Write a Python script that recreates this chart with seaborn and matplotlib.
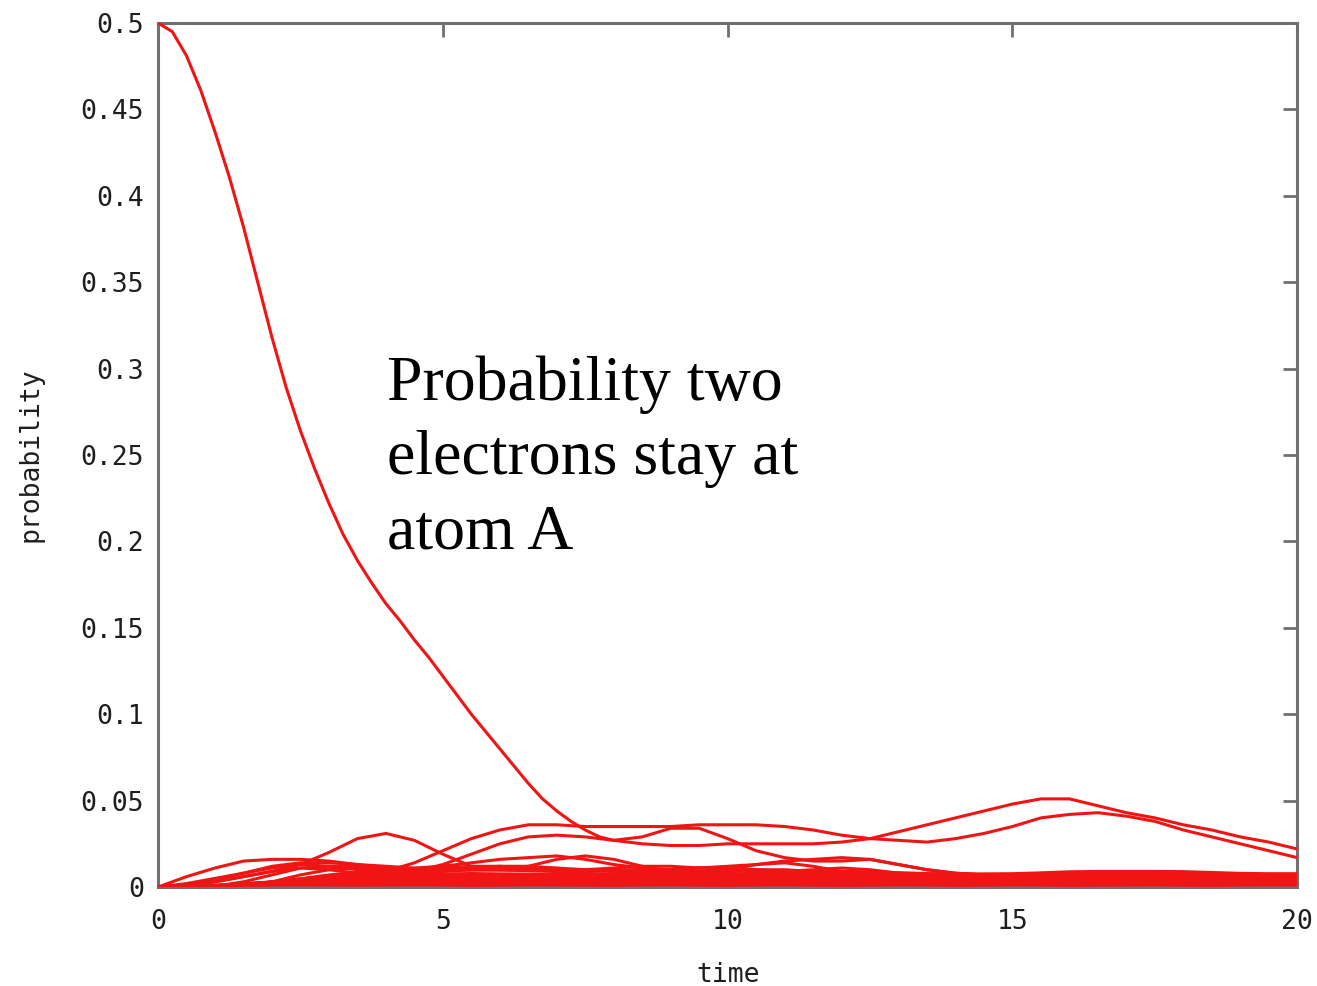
import numpy as np
import pandas as pd
import matplotlib
matplotlib.use('Agg')
import matplotlib.pyplot as plt
import seaborn as sns

# time grid shared by the small curves (every 0.5)
time_grid = [0.0, 0.5, 1.0, 1.5, 2.0, 2.5, 3.0, 3.5, 4.0, 4.5,
             5.0, 5.5, 6.0, 6.5, 7.0, 7.5, 8.0, 8.5, 9.0, 9.5,
             10.0, 10.5, 11.0, 11.5, 12.0, 12.5, 13.0, 13.5, 14.0, 14.5,
             15.0, 15.5, 16.0, 16.5, 17.0, 17.5, 18.0, 18.5, 19.0, 19.5,
             20.0]

# the big one: both electrons stay at atom A
main_time = [0.0, 0.25, 0.5, 0.75, 1.0, 1.25, 1.5, 1.75, 2.0, 2.25, 2.5, 2.75,
             3.0, 3.25, 3.5, 3.75, 4.0, 4.25, 4.5, 4.75, 5.0, 5.25, 5.5, 5.75,
             6.0, 6.25, 6.5, 6.75, 7.0, 7.25, 7.5, 7.75, 8.0,
             8.5, 9.0, 9.5, 10.0, 10.5, 11.0, 11.5, 12.0, 12.5, 13.0, 13.5,
             14.0, 14.5, 15.0, 15.5, 16.0, 16.5, 17.0, 17.5, 18.0, 18.5,
             19.0, 19.5, 20.0]
main_prob = [0.500, 0.495, 0.481, 0.461, 0.437, 0.411, 0.382, 0.350, 0.318, 0.289,
             0.264, 0.242, 0.222, 0.204, 0.189, 0.176, 0.164, 0.154, 0.143, 0.133,
             0.122, 0.111, 0.100, 0.090, 0.080, 0.070, 0.060, 0.051, 0.044, 0.038,
             0.033, 0.029, 0.027,
             0.029, 0.034, 0.034, 0.028, 0.021, 0.017, 0.015, 0.015, 0.016, 0.013,
             0.010, 0.008, 0.007, 0.006, 0.006, 0.005, 0.006, 0.006, 0.005, 0.005,
             0.006, 0.006, 0.005, 0.005]

upper_hump = [0.000, 0.002, 0.005, 0.008, 0.011, 0.013, 0.012, 0.010, 0.008, 0.009,
              0.013, 0.019, 0.025, 0.029, 0.030, 0.029, 0.027, 0.025, 0.024, 0.024,
              0.025, 0.025, 0.025, 0.025, 0.026, 0.028, 0.032, 0.036, 0.040, 0.044,
              0.048, 0.051, 0.051, 0.047, 0.043, 0.040, 0.036, 0.033, 0.029, 0.026,
              0.022]
lower_hump = [0.000, 0.001, 0.003, 0.006, 0.009, 0.011, 0.010, 0.008, 0.009, 0.014,
              0.021, 0.028, 0.033, 0.036, 0.036, 0.035, 0.035, 0.035, 0.035, 0.036,
              0.036, 0.036, 0.035, 0.033, 0.030, 0.028, 0.027, 0.026, 0.028, 0.031,
              0.035, 0.040, 0.042, 0.043, 0.041, 0.038, 0.033, 0.029, 0.025, 0.021,
              0.017]
hump_t4 = [0.000, 0.001, 0.003, 0.006, 0.009, 0.013, 0.020, 0.028, 0.031, 0.027,
           0.019, 0.012, 0.010, 0.012, 0.016, 0.018, 0.016, 0.012, 0.009, 0.008,
           0.010, 0.013, 0.014, 0.012, 0.009, 0.007, 0.006, 0.006, 0.005, 0.005,
           0.006, 0.006, 0.005, 0.006, 0.006, 0.005, 0.005, 0.006, 0.006, 0.005,
           0.005]
early1 = [0.000, 0.006, 0.011, 0.015, 0.016, 0.016, 0.015, 0.013, 0.011, 0.010,
          0.010, 0.011, 0.012, 0.012, 0.011, 0.010, 0.009, 0.009, 0.010, 0.011,
          0.011, 0.010, 0.009, 0.008, 0.008, 0.007, 0.007, 0.006, 0.006, 0.006,
          0.007, 0.007, 0.008, 0.008, 0.008, 0.007, 0.007, 0.006, 0.006, 0.006,
          0.006]
early2 = [0.000, 0.0005, 0.004, 0.008, 0.012, 0.014, 0.014, 0.013, 0.012, 0.011,
          0.012, 0.014, 0.016, 0.017, 0.018, 0.016, 0.013, 0.011, 0.010, 0.011,
          0.012, 0.013, 0.015, 0.016, 0.017, 0.016, 0.013, 0.010, 0.008, 0.007,
          0.006, 0.006, 0.007, 0.007, 0.006, 0.006, 0.005, 0.005, 0.006, 0.006,
          0.006]
early3 = [0.000, 0.000, 0.0005, 0.003, 0.007, 0.011, 0.012, 0.012, 0.011, 0.010,
          0.011, 0.012, 0.012, 0.011, 0.010, 0.010, 0.011, 0.012, 0.012, 0.011,
          0.010, 0.009, 0.009, 0.010, 0.011, 0.010, 0.008, 0.007, 0.006, 0.006,
          0.005, 0.005, 0.006, 0.006, 0.005, 0.005, 0.005, 0.006, 0.006, 0.005,
          0.005]
early4 = [0.000, 0.000, 0.000, 0.0005, 0.003, 0.007, 0.010, 0.011, 0.010, 0.009,
          0.009, 0.010, 0.011, 0.010, 0.009, 0.009, 0.010, 0.010, 0.009, 0.009,
          0.009, 0.010, 0.010, 0.009, 0.008, 0.007, 0.006, 0.005, 0.005, 0.004,
          0.004, 0.004, 0.005, 0.005, 0.004, 0.004, 0.004, 0.005, 0.005, 0.004,
          0.004]

# the crowd of tiny probabilities near zero
base1 = [0, 0.0003, 0.0006, 0.0009, 0.0011, 0.0012, 0.0011, 0.0010, 0.0011, 0.0012,
         0.0011, 0.0009, 0.0010, 0.0012, 0.0011, 0.0010, 0.0009, 0.0011, 0.0012, 0.0010,
         0.0009, 0.0011, 0.0012, 0.0010, 0.0009, 0.0010, 0.0012, 0.0011, 0.0009, 0.0010,
         0.0012, 0.0011, 0.0009, 0.0010, 0.0011, 0.0012, 0.0010, 0.0009, 0.0011, 0.0012,
         0.0011]
base2 = [0, 0.0004, 0.0009, 0.0015, 0.0020, 0.0024, 0.0025, 0.0023, 0.0022, 0.0024,
         0.0026, 0.0024, 0.0022, 0.0023, 0.0025, 0.0024, 0.0022, 0.0023, 0.0025, 0.0024,
         0.0022, 0.0023, 0.0025, 0.0024, 0.0022, 0.0023, 0.0025, 0.0024, 0.0022, 0.0023,
         0.0025, 0.0024, 0.0022, 0.0023, 0.0025, 0.0024, 0.0022, 0.0023, 0.0025, 0.0024,
         0.0023]
base3 = [0, 0.0003, 0.0010, 0.0018, 0.0026, 0.0033, 0.0037, 0.0038, 0.0036, 0.0035,
         0.0037, 0.0038, 0.0036, 0.0034, 0.0036, 0.0038, 0.0037, 0.0035, 0.0036, 0.0038,
         0.0037, 0.0035, 0.0036, 0.0038, 0.0037, 0.0035, 0.0036, 0.0038, 0.0037, 0.0035,
         0.0036, 0.0038, 0.0037, 0.0035, 0.0036, 0.0038, 0.0037, 0.0035, 0.0036, 0.0038,
         0.0037]
base4 = [0, 0.0002, 0.0008, 0.0017, 0.0028, 0.0040, 0.0048, 0.0051, 0.0050, 0.0048,
         0.0049, 0.0051, 0.0050, 0.0048, 0.0049, 0.0051, 0.0050, 0.0048, 0.0049, 0.0051,
         0.0050, 0.0048, 0.0049, 0.0051, 0.0050, 0.0048, 0.0049, 0.0051, 0.0050, 0.0048,
         0.0049, 0.0051, 0.0050, 0.0048, 0.0049, 0.0051, 0.0050, 0.0048, 0.0049, 0.0051,
         0.0050]
base5 = [0, 0.0002, 0.0007, 0.0016, 0.0029, 0.0044, 0.0057, 0.0064, 0.0063, 0.0061,
         0.0062, 0.0064, 0.0063, 0.0061, 0.0062, 0.0064, 0.0063, 0.0061, 0.0062, 0.0064,
         0.0063, 0.0061, 0.0062, 0.0064, 0.0063, 0.0061, 0.0062, 0.0064, 0.0063, 0.0061,
         0.0062, 0.0064, 0.0063, 0.0061, 0.0062, 0.0064, 0.0063, 0.0061, 0.0062, 0.0064,
         0.0063]
base6 = [0, 0.0001, 0.0005, 0.0014, 0.0028, 0.0046, 0.0063, 0.0074, 0.0077, 0.0075,
         0.0076, 0.0078, 0.0076, 0.0075, 0.0077, 0.0078, 0.0076, 0.0075, 0.0077, 0.0078,
         0.0076, 0.0075, 0.0077, 0.0078, 0.0076, 0.0075, 0.0074, 0.0073, 0.0072, 0.0072,
         0.0073, 0.0075, 0.0076, 0.0077, 0.0077, 0.0076, 0.0074, 0.0073, 0.0072, 0.0072,
         0.0072]
base7 = [0, 0.0001, 0.0004, 0.0012, 0.0027, 0.0048, 0.0070, 0.0085, 0.0092, 0.0094,
         0.0096, 0.0098, 0.0097, 0.0095, 0.0094, 0.0096, 0.0093, 0.0090, 0.0089, 0.0090,
         0.0091, 0.0090, 0.0089, 0.0090, 0.0091, 0.0088, 0.0083, 0.0078, 0.0076, 0.0076,
         0.0077, 0.0082, 0.0088, 0.0090, 0.0090, 0.0090, 0.0089, 0.0084, 0.0079, 0.0077,
         0.0077]
base8 = [0, 0.0002, 0.0007, 0.0013, 0.0018, 0.0017, 0.0016, 0.0018, 0.0017, 0.0016,
         0.0017, 0.0018, 0.0016, 0.0017, 0.0018, 0.0017, 0.0016, 0.0017, 0.0018, 0.0016,
         0.0017, 0.0018, 0.0016, 0.0017, 0.0018, 0.0017, 0.0016, 0.0017, 0.0018, 0.0016,
         0.0017, 0.0018, 0.0016, 0.0017, 0.0018, 0.0017, 0.0016, 0.0017, 0.0018, 0.0016,
         0.0017]
base9 = [0, 0.0002, 0.0009, 0.0019, 0.0030, 0.0040, 0.0043, 0.0044, 0.0042, 0.0043,
         0.0044, 0.0042, 0.0043, 0.0044, 0.0042, 0.0043, 0.0044, 0.0042, 0.0043, 0.0044,
         0.0042, 0.0043, 0.0044, 0.0042, 0.0043, 0.0044, 0.0042, 0.0043, 0.0044, 0.0042,
         0.0043, 0.0044, 0.0042, 0.0043, 0.0044, 0.0042, 0.0043, 0.0044, 0.0042, 0.0043,
         0.0044]
base10 = [0, 0.0001, 0.0006, 0.0015, 0.0029, 0.0045, 0.0060, 0.0068, 0.0070, 0.0069,
          0.0070, 0.0068, 0.0069, 0.0070, 0.0068, 0.0069, 0.0070, 0.0068, 0.0069, 0.0070,
          0.0068, 0.0069, 0.0070, 0.0068, 0.0069, 0.0070, 0.0068, 0.0067, 0.0066, 0.0066,
          0.0067, 0.0069, 0.0070, 0.0070, 0.0069, 0.0069, 0.0068, 0.0067, 0.0066, 0.0066,
          0.0066]

small_curves = {'upper_hump': upper_hump, 'lower_hump': lower_hump, 'hump_t4': hump_t4,
                'early1': early1, 'early2': early2, 'early3': early3, 'early4': early4,
                'base1': base1, 'base2': base2, 'base3': base3, 'base4': base4,
                'base5': base5, 'base6': base6, 'base7': base7, 'base8': base8,
                'base9': base9, 'base10': base10}

frames = [pd.DataFrame({'time': main_time, 'probability': main_prob, 'curve': 'main'})]
for name, vals in small_curves.items():
    frames.append(pd.DataFrame({'time': time_grid, 'probability': vals, 'curve': name}))
df = pd.concat(frames, ignore_index=True)

sns.set_style('white')
plt.rcParams['font.family'] = ['DejaVu Sans Mono']

fig, ax = plt.subplots(figsize=(13.17, 9.86), dpi=100)
fig.subplots_adjust(left=0.12, right=0.985, bottom=0.1004, top=0.9767)

sns.lineplot(data=df, x='time', y='probability', units='curve', estimator=None,
             sort=False, color='#f01414', lw=2.2, legend=False, ax=ax, zorder=3)

ax.set_xlim(0, 20)
ax.set_ylim(0, 0.5)
ax.set_xticks([0, 5, 10, 15, 20])
ax.set_yticks([0, 0.05, 0.1, 0.15, 0.2, 0.25, 0.3, 0.35, 0.4, 0.45, 0.5])
ax.set_yticklabels(['0', '0.05', '0.1', '0.15', '0.2', '0.25', '0.3', '0.35', '0.4', '0.45', '0.5'])

for s in ax.spines.values():
    s.set_color('#707070')
    s.set_linewidth(2.2)
ax.tick_params(direction='in', length=10, width=2, color='#707070', labelsize=19,
               labelcolor='#1e1e1e', top=True, right=True)
ax.tick_params(axis='y', pad=10)
ax.tick_params(axis='x', pad=16)

ax.set_xlabel('time', fontsize=19, color='#1e1e1e', labelpad=19)
ax.set_ylabel('probability', fontsize=19, color='#1e1e1e', labelpad=27)

ax.text(0.201, 0.615, 'Probability two\nelectrons stay at\natom A', transform=ax.transAxes,
        fontsize=46, family='Liberation Serif', color='black', va='top', ha='left',
        linespacing=1.37)

fig.savefig('out.png', dpi=100)
